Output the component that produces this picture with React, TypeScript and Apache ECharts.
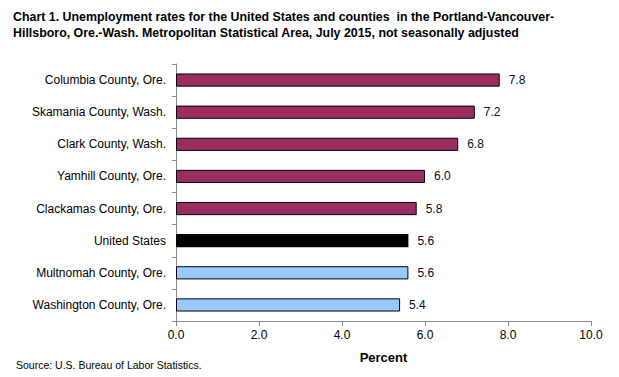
import React, { useEffect, useRef } from "react";
import * as echarts from "echarts";

const categories = [
  "Columbia County, Ore.",
  "Skamania County, Wash.",
  "Clark County, Wash.",
  "Yamhill County, Ore.",
  "Clackamas County, Ore.",
  "United States",
  "Multnomah County, Ore.",
  "Washington County, Ore.",
];
const values = [7.8, 7.2, 6.8, 6.0, 5.8, 5.6, 5.6, 5.4];
const barColors = ["#9b2d63", "#9b2d63", "#9b2d63", "#9b2d63", "#9b2d63", "#000000", "#99c9ff", "#99c9ff"];
const xTicks = [0, 2, 4, 6, 8, 10];

const FONT = "Arial, 'Liberation Sans', sans-serif";

export default function App() {
  const ref = useRef<HTMLDivElement>(null);
  useEffect(() => {
    if (!ref.current) return;
    const chart = echarts.init(ref.current, undefined, { renderer: "svg" });
    chart.setOption({
      animation: false,
      backgroundColor: "#ffffff",
      title: {
        text: "Chart 1. Unemployment rates for the United States and counties  in the Portland-Vancouver-\nHillsboro, Ore.-Wash. Metropolitan Statistical Area, July 2015, not seasonally adjusted",
        left: 8,
        top: 4,
        textStyle: { fontFamily: FONT, fontSize: 12.4, fontWeight: "bold", color: "#000", lineHeight: 16 },
      },
      graphic: [
        {
          type: "text",
          left: 16,
          top: 359,
          style: { text: "Source: U.S. Bureau of Labor Statistics.", fontFamily: FONT, fontSize: 10.5, fill: "#000" },
        },
      ],
      grid: { left: 176, right: 28, top: 64, bottom: 56, containLabel: false },
      xAxis: {
        type: "value",
        min: 0,
        max: 10,
        interval: 2,
        name: "Percent",
        nameLocation: "middle",
        nameGap: 30,
        nameTextStyle: { fontFamily: FONT, fontSize: 13, fontWeight: "bold", color: "#000" },
        axisLine: { show: true, lineStyle: { color: "#888" } },
        axisTick: { show: true, length: 5, lineStyle: { color: "#888" } },
        splitLine: { show: false },
        axisLabel: {
          fontFamily: FONT,
          fontSize: 12,
          color: "#000",
          margin: 8,
          formatter: (v: number) => (xTicks.includes(v) ? v.toFixed(1) : ""),
        },
      },
      yAxis: {
        type: "category",
        data: categories,
        inverse: true,
        axisLine: { show: true, lineStyle: { color: "#888" } },
        axisTick: { show: true, length: 4, lineStyle: { color: "#888" } },
        axisLabel: { fontFamily: FONT, fontSize: 12, color: "#000", margin: 10 },
      },
      series: [
        {
          type: "bar",
          data: values.map((v, i) => ({
            value: v,
            itemStyle: { color: barColors[i], borderColor: "#000", borderWidth: i === 5 ? 0 : 1 },
          })),
          barWidth: "41%",
          label: {
            show: true,
            position: "right",
            distance: 9,
            formatter: (p: any) => Number(p.value).toFixed(1),
            fontFamily: FONT,
            fontSize: 12,
            color: "#0a0a28",
          },
        },
      ],
    });
    return () => chart.dispose();
  }, []);
  return <div ref={ref} style={{ width: 619, height: 377, position: "absolute", left: 0, top: 0 }} />;
}
